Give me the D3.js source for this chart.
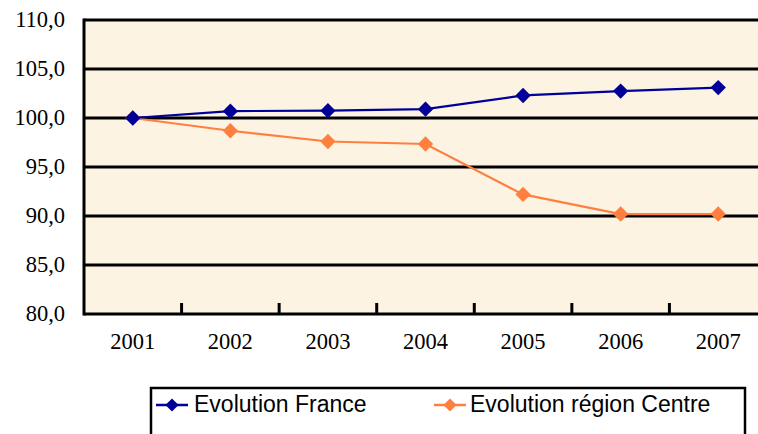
<!DOCTYPE html>
<html><head><meta charset="utf-8">
<script src="https://cdn.jsdelivr.net/npm/d3@7"></script>
<style>
html,body{margin:0;padding:0;background:#fff;}
svg{display:block;}
</style></head>
<body>
<svg id="chart" width="758" height="434"></svg>
<script>
const years = ["2001","2002","2003","2004","2005","2006","2007"];
const france = [100.0, 100.7, 100.75, 100.9, 102.3, 102.75, 103.1];
const centre = [100.0, 98.7, 97.6, 97.35, 92.2, 90.2, 90.2];
const yTicks = [80, 85, 90, 95, 100, 105, 110];
const seriesNames = ["Evolution France", "Evolution région Centre"];
const seriesColors = ["#000099", "#FF7F3F"];

(function () {
const svg = d3.select("#chart");
const pLeft = 84, pRight = 767, pTop = 20, pBottom = 314;
const serif = "'Liberation Serif', Tinos, 'Times New Roman', Times, 'DejaVu Serif', serif";
const sans = "'Liberation Sans', Arial, sans-serif";

const x = d3.scaleBand().domain(years).range([pLeft, pRight]);
const y = d3.scaleLinear().domain([80, 110]).range([pBottom, pTop]);

svg.append("rect").attr("x", pLeft).attr("y", pTop)
  .attr("width", pRight - pLeft).attr("height", pBottom - pTop)
  .attr("fill", "#FDF3E3");

// horizontal gridlines
svg.append("g").selectAll("line").data(yTicks).join("line")
  .attr("x1", pLeft).attr("x2", pRight)
  .attr("y1", d => y(d)).attr("y2", d => y(d))
  .attr("stroke", "#000").attr("stroke-width", 3);

// left axis line
svg.append("line").attr("x1", pLeft).attr("x2", pLeft)
  .attr("y1", pTop - 1.5).attr("y2", pBottom + 1.5)
  .attr("stroke", "#000").attr("stroke-width", 3);

// y labels
svg.append("g").selectAll("text").data(yTicks).join("text")
  .attr("x", 65).attr("y", d => y(d) + 7)
  .attr("text-anchor", "end")
  .style("font-family", serif)
  .style("font-size", "22.5px").attr("fill", "#000")
  .text(d => d3.format(".1f")(d).replace(".", ","));

// x category ticks (between categories, pointing up)
const tickPos = years.slice(1).map(d => x(d));
svg.append("g").selectAll("line").data(tickPos).join("line")
  .attr("x1", d => d).attr("x2", d => d)
  .attr("y1", pBottom).attr("y2", pBottom - 11)
  .attr("stroke", "#000").attr("stroke-width", 3);

// x labels
svg.append("g").selectAll("text").data(years).join("text")
  .attr("x", d => x(d) + x.bandwidth() / 2).attr("y", 349)
  .attr("text-anchor", "middle")
  .style("font-family", serif)
  .style("font-size", "22.5px").attr("fill", "#000")
  .text(d => d);

const diamond = d3.symbol().type(d3.symbolDiamond2).size(150);
const line = d3.line().x((d, i) => x(years[i]) + x.bandwidth() / 2).y(d => y(d));

[centre, france].forEach((vals, k) => {
  const color = k === 0 ? seriesColors[1] : seriesColors[0];
  const g = svg.append("g");
  g.append("path").attr("d", line(vals)).attr("fill", "none")
    .attr("stroke", color).attr("stroke-width", 2.2);
  g.selectAll("path.m").data(vals).join("path").attr("class", "m")
    .attr("d", diamond)
    .attr("transform", (d, i) => `translate(${x(years[i]) + x.bandwidth() / 2},${y(d)})`)
    .attr("fill", color);
});

// legend
svg.append("rect").attr("x", 151).attr("y", 388).attr("width", 594).attr("height", 60)
  .attr("fill", "#fff").attr("stroke", "#000").attr("stroke-width", 2.5);

const legendX = [156, 434];
const legendTextX = [194, 470];
seriesNames.forEach((name, i) => {
  const g = svg.append("g").attr("transform", `translate(${legendX[i]},405)`);
  g.append("line").attr("x1", 0).attr("x2", 32).attr("y1", 0).attr("y2", 0)
    .attr("stroke", seriesColors[i]).attr("stroke-width", 2.5);
  g.append("path").attr("d", d3.symbol().type(d3.symbolDiamond2).size(110))
    .attr("transform", "translate(16,0)").attr("fill", seriesColors[i]);
  svg.append("text").attr("x", legendTextX[i]).attr("y", 412)
    .style("font-family", sans)
    .style("font-size", "23px").attr("fill", "#000").text(name);
});
})();
</script>
</body></html>
